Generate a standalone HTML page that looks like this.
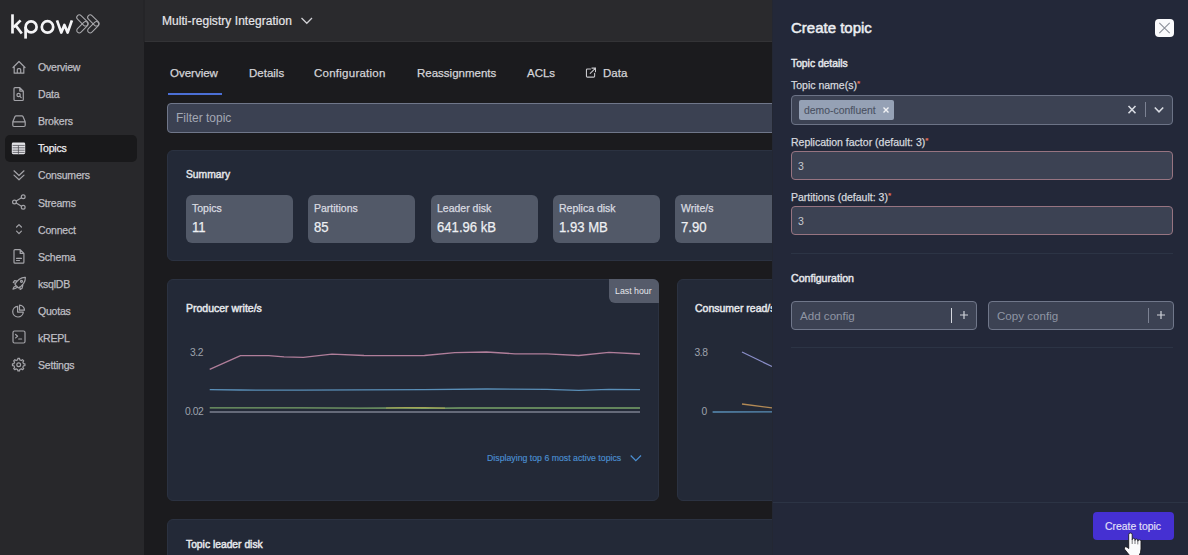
<!DOCTYPE html>
<html><head><meta charset="utf-8">
<style>
*{margin:0;padding:0;box-sizing:border-box}
html,body{width:1188px;height:555px;overflow:hidden;background:#1b1b1e;font-family:"Liberation Sans",sans-serif;position:relative}
.a{position:absolute;white-space:nowrap}
.m{-webkit-text-stroke:0.25px currentColor}
#side{left:0;top:0;width:144px;height:555px;background:#28282b}
#hdr{left:145px;top:0;width:1043px;height:42px;background:#2a2a2d;border-bottom:1px solid #333336}
.nav{left:38px;font-size:10.5px;letter-spacing:-0.2px;color:#bfbfc4}
.ico{left:12px;width:14px;height:14px}
.tab{top:67px;font-size:11.5px;color:#d4d4d8}
.card{background:#232937;border:1px solid #2b3241;border-radius:6px}
.stat{top:195px;width:107px;height:48px;background:#525968;border-radius:6px}
.stat .l{left:6px;top:7px;font-size:10.5px;color:#d9dbe0}
.stat .v{left:6px;top:22.5px;font-size:15px;transform:scaleX(0.875);transform-origin:0 0;color:#eef0f3}
#drawer{left:772px;top:0;width:416px;height:555px;background:#232839;border-left:1px solid #232733}
.lbl{left:18px;font-size:10.5px;color:#d6d8de}
.lbl b{color:#e8765f;font-weight:400;font-size:8px;vertical-align:top}
.inp{left:18px;width:382px;background:#3c4253;border-radius:4px}
.sec{left:18px;font-size:10.3px;color:#e4e6ea;-webkit-text-stroke:0.45px #e4e6ea}
</style></head><body>
<div id="side" class="a">
<svg class="a" style="left:0;top:0" width="144" height="42" viewBox="0 0 144 42">
 <g fill="none" stroke="#f4f4f6" stroke-width="2.7" stroke-linecap="butt">
  <path d="M12.5 14.3V33.5"/>
  <path d="M20.6 20.4L13.6 27.2M15.6 25.4L21.8 33.5"/>
  <path d="M25.6 27V38.6"/>
  <circle cx="31.1" cy="26.9" r="5.5"/>
  <circle cx="47.5" cy="26.9" r="5.7"/>
  <path d="M57 20.4L61.3 32.6L64.4 25L67.6 32.6L71.9 20.4" stroke-linejoin="round"/>
 </g>
 <g fill="none" stroke="#a9a9ad" stroke-width="1.05">
  <rect x="-6.9" y="-2.5" width="13.8" height="5" rx="2.5" transform="translate(82.4 20.4) rotate(45)"/>
  <rect x="-6.9" y="-2.5" width="13.8" height="5" rx="2.5" transform="translate(82.4 27.3) rotate(-45)"/>
  <rect x="-6.9" y="-2.5" width="13.8" height="5" rx="2.5" transform="translate(93.3 20.4) rotate(45)"/>
  <rect x="-6.9" y="-2.5" width="13.8" height="5" rx="2.5" transform="translate(93.3 27.3) rotate(-45)"/>
 </g>
</svg>
<div class="a" style="left:5px;top:135px;width:132px;height:27px;background:#19191b;border-radius:5px"></div>
<svg class="a" style="left:0;top:50px" width="40" height="330" viewBox="0 50 40 330">
 <g fill="none" stroke="#a3a3a8" stroke-width="1.2" stroke-linejoin="round" stroke-linecap="round">
  <!-- overview house -->
  <path d="M13 67.5L19 61.5L25 67.5M14.2 66.3V73.2H23.8V66.3M17.3 73.2V69.8Q17.3 68.6 18.5 68.6H19.5Q20.7 68.6 20.7 69.8V73.2"/>
  <!-- data doc -->
  <path d="M14 88.5Q14 87.6 15 87.6H19.8L23.3 91.1V99.6Q23.3 100.5 22.4 100.5H15Q14 100.5 14 99.6Z M19.8 87.6V91.1H23.3"/>
  <circle cx="18.6" cy="95" r="1.7"/><path d="M19.9 96.3L21.2 97.6"/>
  <!-- brokers drive -->
  <path d="M12.8 121.8L15 116.6Q15.3 115.9 16.2 115.9H21.8Q22.7 115.9 23 116.6L25.2 121.8M12.8 121.8V125.3Q12.8 126.5 14 126.5H24Q25.2 126.5 25.2 125.3V121.8Z"/>
  <!-- consumers double chevron -->
  <path d="M14 170.8L19 175.5L24 170.8M14 175.1L19 179.8L24 175.1"/>
  <!-- streams share -->
  <circle cx="14.5" cy="202" r="1.9"/><circle cx="23.2" cy="196.8" r="1.9"/><circle cx="23.2" cy="207.2" r="1.9"/>
  <path d="M16.2 201L21.5 197.8M16.2 203L21.5 206.2"/>
  <!-- connect updown -->
  <path d="M16.6 227L19 224.6L21.4 227M16.6 231.2L19 233.6L21.4 231.2"/>
  <!-- schema doc -->
  <path d="M14 250.6Q14 249.7 15 249.7H20.2L23.9 253.4V262.2Q23.9 263.1 23 263.1H15Q14 263.1 14 262.2Z M20.2 249.7V253.4H23.9 M16.5 258.3H21.5M16.5 260.5H19.5"/>
  <!-- ksqldb rocket -->
  <path d="M16 285.5L18.5 288Q21 286.8 23.5 283.6Q25.6 280.7 25.4 277.4Q22.2 277.2 19.3 279.3Q16.1 281.7 15 284.3Z M17.5 281L14.6 280.6L13.3 282.4L15.6 283.2 M19.8 286.9L20.2 289.4L22.1 288.2L22.8 285.4 M15.6 286.2Q13.4 286.8 13 289.1Q15.3 288.6 16.9 287.5"/>
  <circle cx="21.5" cy="281.3" r="1"/>
  <!-- quotas pie -->
  <path d="M17.6 306.4A5.3 5.3 0 1 0 23.3 312.1H17.6Z M19.5 305.2V310.2H24.5A5 5 0 0 0 19.5 305.2Z"/>
  <!-- krepl terminal -->
  <rect x="13" y="331" width="12" height="12" rx="1.5"/>
  <path d="M15.6 334.5L17.6 336.2L15.6 337.9M18.7 339H21.6"/>
  <!-- settings gear -->
  <circle cx="18.7" cy="364.7" r="1.9"/>
  <path d="M23.49 363.65L24.94 363.84L24.94 365.56L23.49 365.75L22.83 367.34L23.72 368.50L22.50 369.72L21.34 368.83L19.75 369.49L19.56 370.94L17.84 370.94L17.65 369.49L16.06 368.83L14.90 369.72L13.68 368.50L14.57 367.34L13.91 365.75L12.46 365.56L12.46 363.84L13.91 363.65L14.57 362.06L13.68 360.90L14.90 359.68L16.06 360.57L17.65 359.91L17.84 358.46L19.56 358.46L19.75 359.91L21.34 360.57L22.50 359.68L23.72 360.90L22.83 362.06Z"/>
 </g>
 <!-- topics table (filled) -->
 <g>
  <rect x="11.8" y="142.6" width="13.4" height="11.6" rx="1.4" fill="#e2e2e6"/>
  <path d="M12.6 145.4H24.7M12.6 147.8H24.7M12.6 150.2H24.7M12.6 152.4H24.7M18.4 145.4V153.9" stroke="#4a4a50" stroke-width="0.75"/>
 </g>
</svg>
<div class="a nav m" style="top:61.0px">Overview</div>
<div class="a nav m" style="top:88.1px">Data</div>
<div class="a nav m" style="top:115.2px">Brokers</div>
<div class="a nav m" style="top:142.3px;color:#ececef">Topics</div>
<div class="a nav m" style="top:169.4px">Consumers</div>
<div class="a nav m" style="top:196.5px">Streams</div>
<div class="a nav m" style="top:223.6px">Connect</div>
<div class="a nav m" style="top:250.7px">Schema</div>
<div class="a nav m" style="top:277.8px">ksqlDB</div>
<div class="a nav m" style="top:304.9px">Quotas</div>
<div class="a nav m" style="top:332.0px">kREPL</div>
<div class="a nav m" style="top:359.1px">Settings</div>
</div>
<div class="a" style="left:143px;top:0;width:2px;height:42px;background:#252528"></div>
<div id="hdr" class="a">
<div class="a" style="left:17px;top:14.3px;font-size:12px;color:#e6e6ea;letter-spacing:0.05px;-webkit-text-stroke:0.18px #e6e6ea">Multi-registry Integration</div>
<svg class="a" style="left:155px;top:16px" width="14" height="10" viewBox="0 0 14 10"><path d="M1.5 2L6.8 7.3L12 2" fill="none" stroke="#d0d0d4" stroke-width="1.3"/></svg>
</div>
<div class="a tab m" style="left:170px">Overview</div>
<div class="a" style="left:168px;top:93px;width:54px;height:2px;background:#4b6fd6"></div>
<div class="a tab m" style="left:249px">Details</div>
<div class="a tab m" style="left:314px;letter-spacing:0.25px">Configuration</div>
<div class="a tab m" style="left:417px">Reassignments</div>
<div class="a tab m" style="left:527px">ACLs</div>
<svg class="a" style="left:584.5px;top:67px" width="11.8" height="11.8" viewBox="0 0 13 13"><g fill="none" stroke="#c8c8cc" stroke-width="1.2" stroke-linecap="round"><path d="M6 2.2H2.6Q1.6 2.2 1.6 3.2V10.2Q1.6 11.2 2.6 11.2H9.6Q10.6 11.2 10.6 10.2V6.8"/><path d="M7.6 1.2H11.6V5.2M11.4 1.4L5.8 7"/></g></svg>
<div class="a tab m" style="left:603px">Data</div>
<div class="a" style="left:167px;top:103px;width:640px;height:30px;background:#3b4152;border:1px solid #70778a;border-radius:4px"></div>
<div class="a" style="left:176px;top:111px;font-size:12px;color:#a3a8b4">Filter topic</div>

<div class="a card" style="left:167px;top:150px;width:640px;height:111px"></div>
<div class="a" style="left:186px;top:169px;font-size:10.3px;color:#e2e4e8;-webkit-text-stroke:0.45px #e2e4e8">Summary</div>
<div class="a stat" style="left:186px"><div class="a l m">Topics</div><div class="a v m">11</div></div>
<div class="a stat" style="left:308px"><div class="a l m">Partitions</div><div class="a v m">85</div></div>
<div class="a stat" style="left:431px"><div class="a l m">Leader disk</div><div class="a v m">641.96 kB</div></div>
<div class="a stat" style="left:553px"><div class="a l m">Replica disk</div><div class="a v m">1.93 MB</div></div>
<div class="a stat" style="left:675px"><div class="a l m">Write/s</div><div class="a v m">7.90</div></div>
<div class="a card" style="left:167px;top:279px;width:492px;height:222px"></div>
<div class="a" style="left:609px;top:279px;width:50px;height:24px;background:#555b6a;border-radius:0 6px 0 6px"></div>
<div class="a" style="left:615px;top:286px;font-size:8.8px;color:#e4e6ea">Last hour</div>
<div class="a" style="left:186px;top:302px;font-size:10.5px;color:#e6e8ec;-webkit-text-stroke:0.45px #e6e8ec">Producer write/s</div>
<div class="a" style="left:190px;top:346.5px;font-size:10.3px;letter-spacing:-0.45px;color:#9ea2ac">3.2</div>
<div class="a" style="left:185px;top:406px;font-size:10.3px;letter-spacing:-0.45px;color:#9ea2ac">0.02</div>
<svg class="a" style="left:0;top:0" width="780" height="555" viewBox="0 0 780 555">
 <g fill="none" stroke-width="1.3" stroke-linejoin="round">
  <polyline stroke="#b07e9a" points="209.7,369.4 240.5,355.6 268.7,355.6 284,356.8 303.3,357.3 332,354.1 364,355.5 395,355.6 424.5,355.5 454.8,352.7 486.5,352 515,353.8 547,353.8 578.7,355.5 609,352.3 640,354"/>
  <polyline stroke="#5a8fb8" points="209.7,389.6 240,390 300,390.2 360,389.9 424,389.6 486.5,389 547,389.4 578.7,390.3 609,389.3 640,389.6"/>
  <polyline stroke="#7aa46a" points="209.7,407.8 300,407.8 360,408.2 400,408 424,408.4 460,408 640,408"/>
  <polyline stroke="#a3a556" stroke-width="1.2" points="386,408 405,407.7 425,407.5 445,408.2"/>
  <polyline stroke="#7d8190" points="209.7,412 640,412"/>
 </g>
 <path d="M630.7 455.5L635.8 460.6L641 455.5" fill="none" stroke="#4b8fd2" stroke-width="1.2"/>
</svg>
<div class="a m" style="left:487px;top:453px;font-size:8.75px;color:#4b8fd2;-webkit-text-stroke-width:0.15px">Displaying top 6 most active topics</div>
<div class="a card" style="left:677px;top:279px;width:300px;height:222px"></div>
<div class="a" style="left:695px;top:302px;font-size:10.5px;color:#e6e8ec;-webkit-text-stroke:0.45px #e6e8ec">Consumer read/s</div>
<div class="a" style="left:694.5px;top:346.5px;font-size:10.3px;letter-spacing:-0.45px;color:#9ea2ac">3.8</div>
<div class="a" style="left:701.5px;top:406px;font-size:10.3px;color:#9ea2ac">0</div>
<svg class="a" style="left:0;top:0" width="780" height="555" viewBox="0 0 780 555">
 <polyline fill="none" stroke="#8a8ec8" stroke-width="1.3" points="742,352 772,366.5"/>
 <polyline fill="none" stroke="#b38a55" stroke-width="1.3" points="742,404 772,407.8"/>
 <polyline fill="none" stroke="#5a8fb8" stroke-width="1.3" points="712.6,412 772,411.8"/>
</svg>
<div class="a card" style="left:167px;top:519px;width:640px;height:60px"></div>
<div class="a" style="left:186px;top:539px;font-size:10.3px;color:#e6e8ec;-webkit-text-stroke:0.45px #e6e8ec">Topic leader disk</div>
<div id="drawer" class="a">
<div class="a" style="left:18px;top:18.5px;font-size:15px;-webkit-text-stroke:0.5px #eceef2;color:#eceef2">Create topic</div>
<div class="a" style="left:382px;top:19px;width:19px;height:18px;background:#fafafc;border-radius:4px"></div>
<svg class="a" style="left:382px;top:19px" width="19" height="18" viewBox="0 0 19 18"><path d="M4.3 3.8L14.7 14.2M14.7 3.8L4.3 14.2" stroke="#8c909a" stroke-width="1.1"/></svg>
<div class="a sec" style="top:58px">Topic details</div>
<div class="a lbl m" style="top:79px">Topic name(s)<b>*</b></div>
<div class="a inp" style="top:95px;height:29.5px;border:1px solid #6c7386"></div>
<div class="a" style="left:26px;top:100px;width:95px;height:20px;background:#95a1b5;border-radius:2px"></div>
<div class="a" style="left:31px;top:104.8px;font-size:10.4px;color:#4a5162;-webkit-text-stroke:0.1px #4a5162">demo-confluent</div>
<svg class="a" style="left:109px;top:106px" width="8" height="8" viewBox="0 0 8 8"><path d="M1.5 1.5L6.5 6.5M6.5 1.5L1.5 6.5" stroke="#f2f3f6" stroke-width="1.4"/></svg>
<svg class="a" style="left:354px;top:104px" width="10" height="11" viewBox="0 0 10 11"><path d="M1.5 2L8.5 9.2M8.5 2L1.5 9.2" stroke="#d8dbe2" stroke-width="1.6"/></svg>
<div class="a" style="left:372px;top:102px;width:1px;height:15px;background:#7c8293"></div>
<svg class="a" style="left:380px;top:106px" width="12" height="8" viewBox="0 0 12 8"><path d="M1.8 1.5L6 5.8L10.2 1.5" fill="none" stroke="#d8dbe2" stroke-width="1.6"/></svg>
<div class="a lbl m" style="top:135.5px">Replication factor (default: 3)<b>*</b></div>
<div class="a inp" style="top:151px;height:29px;border:1px solid #977481"></div>
<div class="a" style="left:25px;top:160px;font-size:10.5px;color:#c6c9d0">3</div>
<div class="a lbl m" style="top:190.5px">Partitions (default: 3)<b>*</b></div>
<div class="a inp" style="top:206px;height:29px;border:1px solid #977481"></div>
<div class="a" style="left:25px;top:215px;font-size:10.5px;color:#c6c9d0">3</div>
<div class="a" style="left:18px;top:253px;width:382px;height:1px;background:#2c3445"></div>
<div class="a sec" style="top:271.5px;font-size:10.6px">Configuration</div>
<div class="a" style="left:18px;top:301px;width:186px;height:29px;background:#3c4253;border:1px solid #70778a;border-radius:4px"></div>
<div class="a" style="left:27px;top:309px;font-size:11.6px;color:#8f95a3">Add config</div>
<div class="a" style="left:178px;top:308px;width:1.3px;height:15px;background:#d4d7de"></div>
<svg class="a" style="left:186px;top:310px" width="10" height="10" viewBox="0 0 10 10"><path d="M5 1V9M1 5H9" stroke="#cfd2d9" stroke-width="1.2"/></svg>
<div class="a" style="left:215px;top:301px;width:186px;height:29px;background:#3c4253;border:1px solid #70778a;border-radius:4px"></div>
<div class="a" style="left:224px;top:309px;font-size:11.6px;color:#8f95a3">Copy config</div>
<div class="a" style="left:375px;top:308px;width:1.3px;height:15px;background:#7c8293"></div>
<svg class="a" style="left:383px;top:310px" width="10" height="10" viewBox="0 0 10 10"><path d="M5 1V9M1 5H9" stroke="#cfd2d9" stroke-width="1.2"/></svg>
<div class="a" style="left:18px;top:347px;width:382px;height:1px;background:#2c3445"></div>
<div class="a" style="left:0;top:502px;width:415px;height:1px;background:#2c3445"></div>
<div class="a" style="left:320px;top:512px;width:81px;height:28px;background:#4530d2;border-radius:4px"></div>
<div class="a" style="left:332px;top:521px;font-size:10.4px;color:#e4e0f8;-webkit-text-stroke:0.15px #e4e0f8">Create topic</div>
<svg class="a" style="left:337px;top:525px" width="40" height="30" viewBox="0 0 40 30">
 <path d="M18.7 21V9.7Q18.7 8 20.45 8Q22.2 8 22.2 9.7V14.8Q22.2 13.3 23.6 13.3Q25 13.3 25 14.8V15.5Q25 14 26.4 14Q27.8 14 27.8 15.5V16.2Q27.8 14.8 29.4 14.8Q31 14.8 31 16.2V24Q31 28 28.8 31H20L14.8 24.5Q13.8 23 14.8 22Q15.8 21.2 17.1 22.3L18.7 23.5Z" fill="#fbfbfd" stroke="#18191d" stroke-width="0.9"/>
 <path d="M22.2 14.6V19M25 15.2V19M27.8 16V19.4" stroke="#55565c" stroke-width="0.8"/>
</svg>
</div>
</body></html>
